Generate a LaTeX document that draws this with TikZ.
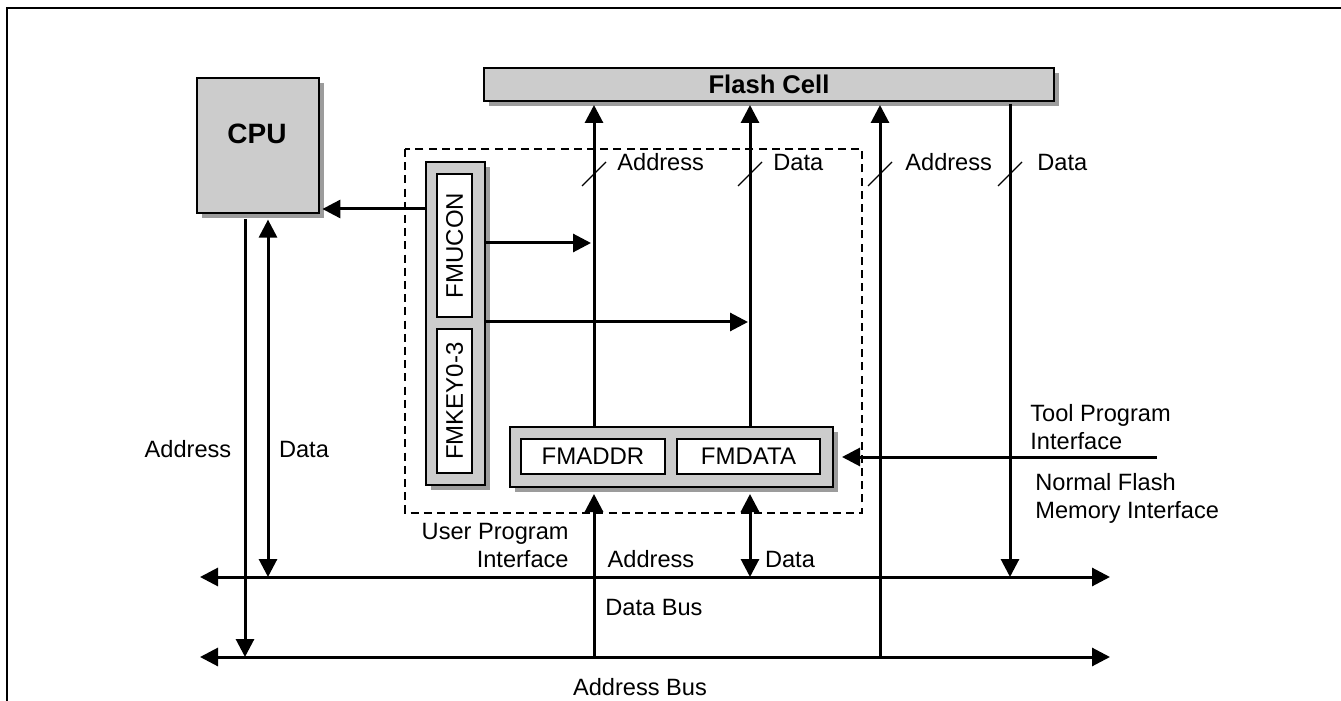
\documentclass[tikz,border=0pt]{standalone}
\usepackage{fontspec}
\setmainfont{Liberation Sans}
\usetikzlibrary{arrows.meta,shadows}
\definecolor{boxgray}{HTML}{CCCCCC}
\definecolor{shadowgray}{HTML}{9C9C9C}
\begin{document}
\begin{tikzpicture}[x=0.5pt,y=-0.5pt,
  lbl/.style={font=\fontsize{11.8}{14}\selectfont, inner sep=0pt, align=left},
  boldtxt/.style={font=\bfseries\fontsize{12.8}{15}\selectfont},
  cputxt/.style={font=\bfseries\fontsize{14}{16}\selectfont},
  graybox/.style={draw, line width=1pt, fill=boxgray, inner sep=0pt,
    drop shadow={shadow xshift=2.6pt, shadow yshift=-2.6pt, fill=shadowgray, opacity=1}},
  whitebox/.style={draw, line width=1pt, fill=white, inner sep=0pt,
    font=\fontsize{12}{14}\selectfont},
  conn/.style={line width=1.5pt, -{Triangle[length=9pt,width=9pt]}},
  dconn/.style={line width=1.5pt, {Triangle[length=9pt,width=9pt]}-{Triangle[length=9pt,width=9pt]}},
  busline/.style={line width=1.5pt, {Triangle[length=9pt,width=9pt]}-{Triangle[length=9pt,width=9pt]}},
  slashline/.style={line width=0.6pt},
  dashbox/.style={draw, line width=0.6pt, dash pattern=on 4pt off 2.6pt},
  frame/.style={line width=1pt}
]
\useasboundingbox (0,0) rectangle (1341,701);
\draw[frame] (7,701) -- (7,8.5) -- (1341,8.5);

% dashed user program interface area
\draw[dashbox] (405,149) rectangle (862,513);

% boxes
\node[graybox, boldtxt, anchor=north west, minimum width=285pt, minimum height=16.5pt] (flash) at (483,67) {Flash Cell};
\node[graybox, anchor=north west, minimum width=61pt, minimum height=67.5pt] (cpu) at (196,77) {};
\node[cputxt, anchor=center] (cputext) at (257,134) {CPU};
\node[graybox, anchor=north west, minimum width=29.5pt, minimum height=161.5pt] (col) at (425,161) {};
\node[whitebox, rotate=90, minimum width=71.5pt, minimum height=17.5pt] (fmucon) at (454.5,245.5) {FMUCON};
\node[whitebox, rotate=90, minimum width=72pt, minimum height=17.5pt] (fmkey) at (454.5,401) {FMKEY0-3};
\node[graybox, anchor=north west, minimum width=161.5pt, minimum height=30pt] (regs) at (509,426) {};
\node[whitebox, minimum width=72pt, minimum height=17.5pt] (fmaddr) at (593,456.5) {FMADDR};
\node[whitebox, minimum width=71.5pt, minimum height=17.5pt] (fmdata) at (748.5,456.5) {FMDATA};

% bus end coordinates
\coordinate (dbL) at (200,577);
\coordinate (dbR) at (1110,577);
\coordinate (abL) at (200,657);
\coordinate (abR) at (1110,657);
\coordinate (tool) at (1157,457);

% buses
\draw[busline] (dbL) -- (dbR);
\draw[busline] (abL) -- (abR);

% CPU connections
\draw[conn] ([yshift=-2.6pt]cpu.south -| 245,0) -- (abL -| 245,0);
\draw[dconn] ([yshift=-2.8pt]cpu.south -| 268,0) -- (dbL -| 268,0);
\draw[conn] (col.west |- 0,209) -- ([xshift=1.2pt]cpu.east |- 0,209);

% FMUCON / FMKEY control arrows
\draw[conn] (col.east |- 0,243) -- (591,243);
\draw[conn] (col.east |- 0,322) -- (748,322);

% register to flash
\draw[conn] (regs.north -| 594,0) -- ([yshift=-1.5pt]flash.south -| 594,0);
\draw[conn] (regs.north -| 750,0) -- ([yshift=-1.5pt]flash.south -| 750,0);
% bus to registers
\draw[conn] (abL -| 594,0) -- ([yshift=-3pt]regs.south -| 594,0);
\draw[dconn] ([yshift=-3pt]regs.south -| 750,0) -- (dbL -| 750,0);
% normal flash memory interface
\draw[conn] (abL -| 880,0) -- ([yshift=-1.5pt]flash.south -| 880,0);
\draw[conn] ([yshift=-1pt]flash.south -| 1010,0) -- (dbL -| 1010,0);
% tool program interface
\draw[conn] (tool) -- ([xshift=4pt]regs.east |- tool);

% slashes
\foreach \sx in {594,750,880,1010}
  \draw[slashline] (\sx-12,186) -- (\sx+12,162);

% labels
\node[lbl, anchor=west] (la1) at (617,162) {Address};
\node[lbl, anchor=west] (ld1) at (773,162) {Data};
\node[lbl, anchor=west] (la2) at (905,162) {Address};
\node[lbl, anchor=west] (ld2) at (1037,162) {Data};
\node[lbl] (lcpua) at (188,449) {Address};
\node[lbl] (lcpud) at (304,449) {Data};
\node[lbl, align=right, anchor=east] (lupi) at (569,545) {User Program\\Interface};
\node[lbl] (la3) at (651,559) {Address};
\node[lbl] (ld3) at (790,559) {Data};
\node[lbl, anchor=west] (ltool) at (1030,427) {Tool Program\\Interface};
\node[lbl, anchor=west] (lnorm) at (1035,498) {Normal Flash\\Memory Interface};
\node[lbl, anchor=west] (ldb) at (605,607) {Data Bus};
\node[lbl] (lab) at (640,687) {Address Bus};
\end{tikzpicture}
\end{document}
